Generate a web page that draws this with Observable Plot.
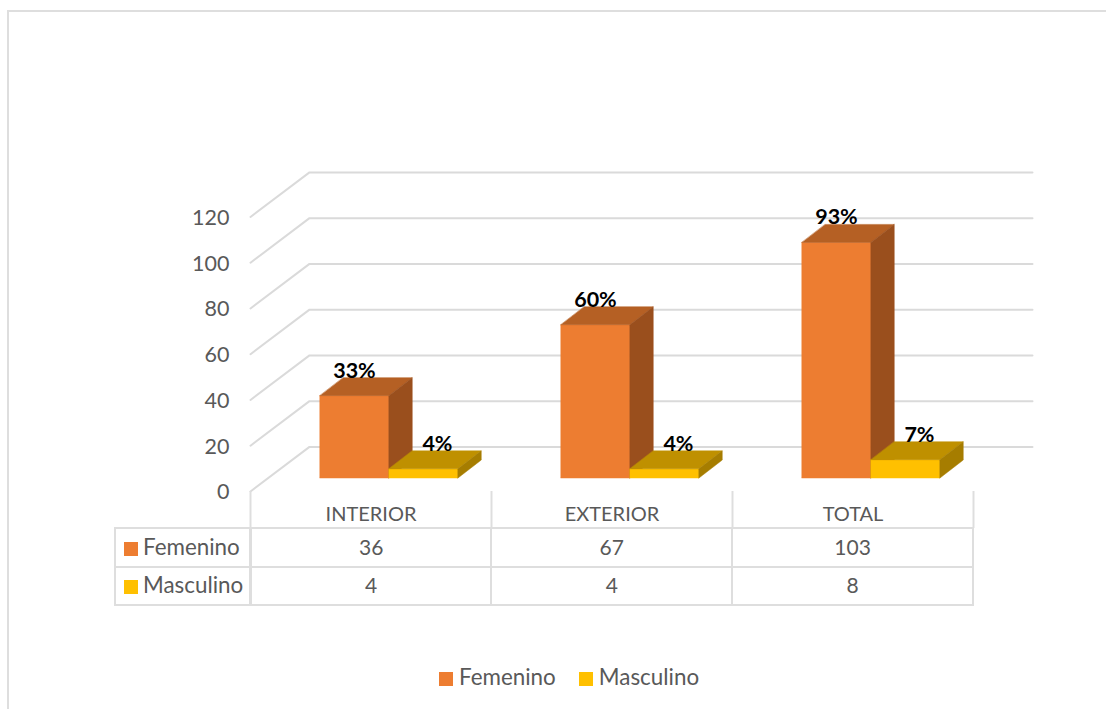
<!DOCTYPE html>
<html>
<head>
<meta charset="utf-8">
<script src="https://cdn.jsdelivr.net/npm/d3@7"></script>
<script src="https://cdn.jsdelivr.net/npm/@observablehq/plot@0.6"></script>
<style>
  html, body { margin: 0; padding: 0; background: #fff; overflow: hidden; width: 1106px; height: 709px; }
  body { position: relative; font-family: Lato, "Noto Sans", sans-serif; color: #595959; }
  #frame { position: absolute; left: 7px; top: 10px; width: 1300px; height: 900px; border: 2px solid #dedede; box-sizing: border-box; }
  #chart { position: absolute; left: 0; top: 0; }
  #chart svg { background: transparent; display: block; }
  table { position: absolute; left: 114px; top: 527px; border-collapse: collapse; table-layout: fixed; width: 860px; font-size: 21px; }
  td { border: 2px solid #dedede; height: 34.5px; padding: 0 0 2px 0; text-align: center; box-sizing: content-box; }
  td.head { text-align: left; width: 133px; border-right-width: 3px; white-space: nowrap; font-size: 22.4px; }
  .sw { display: inline-block; width: 14px; height: 14px; margin: 0 5px 0 8px; vertical-align: -1px; }
  #legend { position: absolute; left: 439px; top: 663px; font-size: 22.4px; white-space: nowrap; line-height: 28px; }
  #legend .sw { margin: 0 6px 0 0; }
  #legend span.item { margin-right: 23px; }
</style>
</head>
<body>
<div id="frame"></div>
<div id="chart"></div>
<table id="table"></table>
<div id="legend"></div>
<script>
const categories = ["INTERIOR", "EXTERIOR", "TOTAL"];
const femenino = [36, 67, 103];
const masculino = [4, 4, 8];
const femeninoPct = ["33%", "60%", "93%"];
const masculinoPct = ["4%", "4%", "7%"];
const yTicks = [0, 20, 40, 60, 80, 100, 120];

const orange = {front: "#ED7D31", top: "#B56024", side: "#9A4F1D"};
const gold = {front: "#FFC000", top: "#BF9000", side: "#A67D00"};

// oblique depth of the wall and of the bars, in data units of the two scales
const wallDX = 0.2448, wallDY = 19.5;
const liftDX = 0.0745, liftDY = 5.9;
const barW = 0.2863, barDX = 0.0967, barDY = 7.87;

// faces of a bar as closed polygons in data space
function faces(values, side, colors, name) {
  const out = [];
  values.forEach((v, i) => {
    const x1 = i + 0.5 + liftDX + (side === 0 ? -barW : 0), x2 = x1 + barW;
    const b = liftDY, t = liftDY + v;
    const add = (face, pts) => pts.forEach(([x, y]) => out.push({x, y, id: `${name}-${i}-${face}`, fill: colors[face]}));
    add("front", [[x1, b], [x2, b], [x2, t], [x1, t]]);
    add("top", [[x1, t], [x2, t], [x2 + barDX, t + barDY], [x1 + barDX, t + barDY]]);
    add("side", [[x2, b], [x2 + barDX, b + barDY], [x2 + barDX, t + barDY], [x2, t]]);
  });
  return out;
}

const wall = yTicks.flatMap(v => [
  {x: 0, y: v, v},
  {x: wallDX, y: v + wallDY, v},
  {x: categories.length + wallDX, y: v + wallDY, v}
]);

const poly = d => Plot.line(d, {x: "x", y: "y", z: "id", fill: "fill", stroke: "fill", strokeWidth: 0.5, curve: "linear-closed"});

const label = (values, labels, xOffset) => Plot.text(values.map((v, i) => ({x: i + 0.5 + liftDX + xOffset, y: liftDY + v, t: labels[i]})), {
  x: "x", y: "y", text: "t", dy: -25, fontWeight: 700, fontSize: 21.5, fill: "#000"
});

const plot = Plot.plot({
  width: 1106, height: 528,
  marginLeft: 250, marginRight: 133, marginTop: 216.5, marginBottom: 37,
  x: {domain: [0, 3], label: null},
  y: {domain: [0, 120], label: null},
  style: {fontFamily: "Lato, 'Noto Sans', sans-serif", fontSize: "21px", color: "#595959", overflow: "visible", background: "transparent"},
  marks: [
    Plot.line(wall, {x: "x", y: "y", z: "v", stroke: "#dadada", strokeWidth: 2}),
    Plot.ruleX([0, 1, 2, 3], {y1: 0, y2: -16.2, stroke: "#dedede", strokeWidth: 2}),
    Plot.axisY({ticks: yTicks, tickSize: 0, tickPadding: 21, fill: "#595959", fontSize: 21.5, dy: 1}),
    Plot.axisX({ticks: [0.5, 1.5, 2.5], tickFormat: d => categories[Math.floor(d)], tickSize: 0, tickPadding: 15.5, fill: "#595959", fontSize: 20}),
    poly(faces(femenino, 0, orange, "f")),
    poly(faces(masculino, 1, gold, "m")),
    label(femenino, femeninoPct, -barW / 2),
    label(masculino, masculinoPct, barW / 2 + 0.058)
  ]
});
document.getElementById("chart").append(plot);

const sw = c => `<span class="sw" style="background:${c}"></span>`;
document.getElementById("table").innerHTML = [
  ["Femenino", femenino, orange.front],
  ["Masculino", masculino, gold.front]
].map(([n, vals, c]) => `<tr><td class="head">${sw(c)}${n}</td>${vals.map(v => `<td>${v}</td>`).join("")}</tr>`).join("");
document.getElementById("legend").innerHTML =
  `<span class="item">${sw(orange.front)}Femenino</span><span>${sw(gold.front)}Masculino</span>`;
</script>
</body>
</html>
